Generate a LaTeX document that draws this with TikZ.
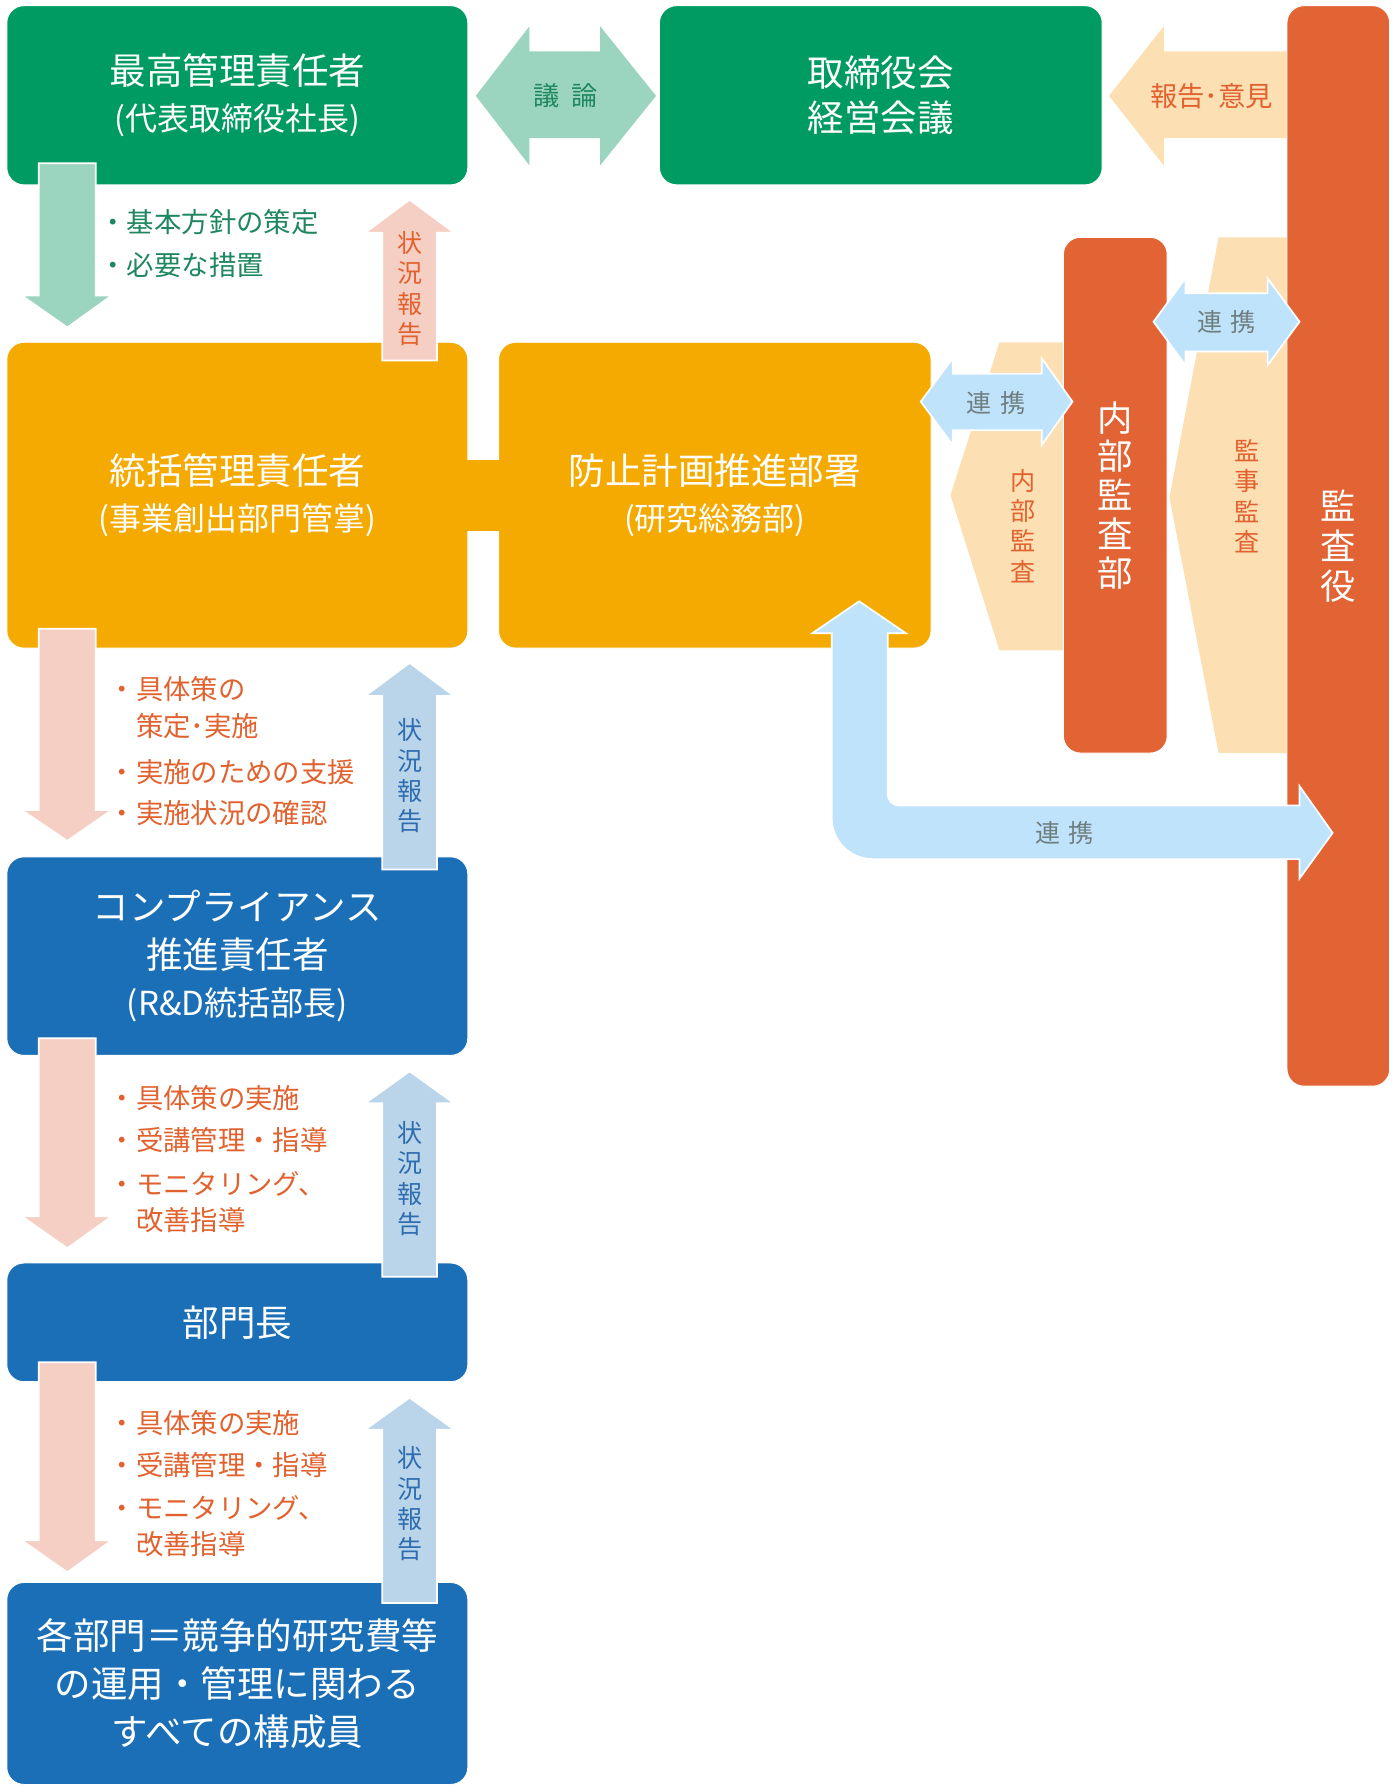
\documentclass[tikz,border=0pt]{standalone}
\usepackage{fontspec}
\setmainfont{Noto Sans CJK JP}
\usetikzlibrary{calc}
\definecolor{dgreen}{HTML}{009B63}
\definecolor{lgreen}{HTML}{9BD5C0}
\definecolor{gtx}{HTML}{1F8760}
\definecolor{yel}{HTML}{F4AA00}
\definecolor{org}{HTML}{E26334}
\definecolor{peach}{HTML}{FDDFB4}
\definecolor{salmon}{HTML}{F5CFC3}
\definecolor{lblue}{HTML}{BAD4EA}
\definecolor{blu}{HTML}{1B6FB7}
\definecolor{sky}{HTML}{C0E3FC}
\definecolor{otext}{HTML}{E2622F}
\definecolor{btext}{HTML}{2E6DB0}
\definecolor{grtext}{HTML}{6F7F80}
\newcommand{\mydown}[4]{\filldraw[blk, fill=#1] (34,#2) -- (84,#2) -- (84,#3) -- (98,#3) -- (59,#4) -- (19,#3) -- (34,#3) -- cycle;}
\newcommand{\myup}[4]{\filldraw[blk, fill=#1] (335,#2) -- (383,#2) -- (383,#3) -- (398,#3) -- (359,#4) -- (320,#3) -- (335,#3) -- cycle;}
\begin{document}
\begin{tikzpicture}[x=1pt,y=-1pt,
 mybox/.style={rounded corners=15pt, draw=white, line width=0.8pt, inner sep=0pt, text=white, align=center, font=\fontsize{32}{40}\selectfont},
 blk/.style={draw=white, line width=1.5pt, line join=miter},
 bul/.style={anchor=west, inner sep=0pt, font=\fontsize{24}{24}\selectfont},
 vtxt/.style={inner sep=0pt, align=center, font=\fontsize{22}{26.5}\selectfont},
 lbl/.style={inner sep=0pt, font=\fontsize{22}{22}\selectfont, text=grtext}
]
\useasboundingbox (0,0) rectangle (1227,1568);

% peach shapes behind
\fill[peach] (876,300) -- (934,300) -- (934,570) -- (876,570) -- (833,434) -- cycle;
\fill[peach] (1068,208) -- (1130,208) -- (1130,660) -- (1068,660) -- (1025,436) -- cycle;
\fill[peach] (972,84) -- (1020,23) -- (1020,45) -- (1131,45) -- (1131,121) -- (1020,121) -- (1020,145) -- cycle;

% boxes
\node[mybox, fill=dgreen, minimum width=404pt, minimum height=157pt] (A) at (208,83.5)
  {最高管理責任者\\{\fontsize{28}{40}\selectfont (代表取締役社長)}};
\node[mybox, fill=dgreen, minimum width=388pt, minimum height=157pt] (B) at (772,83.5)
  {取締役会\\経営会議};
\node[mybox, fill=yel, minimum width=404pt, minimum height=268pt] (C) at (208,434)
  {統括管理責任者\\{\fontsize{28}{40}\selectfont (事業創出部門管掌)}};
\node[mybox, fill=yel, minimum width=379pt, minimum height=268pt] (D) at (626.5,434)
  {防止計画推進部署\\{\fontsize{28}{40}\selectfont (研究総務部)}};
\node[mybox, fill=blu, minimum width=404pt, minimum height=174pt, font=\fontsize{32}{42}\selectfont] (E) at (208,838)
  {コンプライアンス\\推進責任者\\{\fontsize{29}{42}\selectfont (R\&D統括部長)}};
\node[mybox, fill=blu, minimum width=404pt, minimum height=104pt] (F) at (208,1159) {部門長};
\node[mybox, fill=blu, minimum width=404pt, minimum height=177pt, font=\fontsize{32}{42}\selectfont] (G) at (208,1475.5)
  {各部門＝競争的研究費等\\の運用・管理に関わる\\すべての構成員};
\node[mybox, fill=org, minimum width=91pt, minimum height=452pt, font=\fontsize{31}{34}\selectfont] (IA) at (977.5,434)
  {内\\部\\監\\査\\部};
\node[mybox, fill=org, minimum width=90pt, minimum height=947pt, font=\fontsize{31}{35}\selectfont] (KS) at (1173,478.5)
  {監\\査\\役};
\fill[yel] ($(C.east)+(-2,-31)$) rectangle ($(D.west)+(2,31)$);

% vertical arrows
\mydown{lgreen}{143}{259}{287}
\mydown{salmon}{551}{710}{737}
\mydown{salmon}{910}{1066}{1094}
\mydown{salmon}{1194}{1350}{1378}
\myup{salmon}{316}{204}{175}
\myup{lblue}{762}{610}{581}
\myup{lblue}{1119}{967}{939}
\myup{lblue}{1405}{1253}{1225}

% horizontal double arrows
\fill[lgreen] (417,84) -- (464,23) -- (464,45) -- (526,45) -- (526,23) -- (575,84) -- (526,145) -- (526,121) -- (464,121) -- (464,145) -- cycle;
\filldraw[blk, fill=sky] (807,352) -- (835,314) -- (835,327.5) -- (913,327.5) -- (913,314) -- (940,352) -- (913,390) -- (913,377) -- (835,377) -- (835,390) -- cycle;
\filldraw[blk, fill=sky] (1011,282) -- (1039,244) -- (1039,257) -- (1111,257) -- (1111,244) -- (1139,282) -- (1111,320) -- (1111,308) -- (1039,308) -- (1039,320) -- cycle;
\filldraw[blk, fill=sky] (753,527) -- (794,555) -- (778,555) -- (778,696) .. controls (778,701.5) and (782.5,706) .. (788,706) -- (1139,706) -- (1139,689) -- (1168,730) -- (1139,770) -- (1139,753) -- (765,753) .. controls (745,753) and (729,737) .. (729,717) -- (729,555) -- (712,555) -- cycle;

% arrow labels
\node[inner sep=0pt, font=\fontsize{23}{23}\selectfont, text=gtx] (gi) at (496,84) {議\hspace{10pt}論};
\node[inner sep=0pt, font=\fontsize{24}{24}\selectfont, text=otext] (hk) at (1062,84) {報告･意見};
\node[lbl] (r1) at (873,353) {連\hspace{7pt}携};
\node[lbl] (r2) at (1075,282) {連\hspace{7pt}携};
\node[lbl] (r3) at (933,730) {連\hspace{7pt}携};
\node[vtxt, text=otext] (s1) at (359,253) {状\\況\\報\\告};
\node[vtxt, text=btext] (s2) at (359,680) {状\\況\\報\\告};
\node[vtxt, text=btext] (s3) at (359,1033) {状\\況\\報\\告};
\node[vtxt, text=btext] (s4) at (359,1318) {状\\況\\報\\告};
\node[vtxt, text=otext] (na) at (897,461) {内\\部\\監\\査};
\node[vtxt, text=otext] (kj) at (1093,435) {監\\事\\監\\査};

% bullets
\node[bul, text=gtx] (b1) at (87,195) {・基本方針の策定};
\node[bul, text=gtx] (b2) at (87,232) {・必要な措置};
\node[bul, text=otext] (c1) at (95,604) {・具体策の};
\node[bul, text=otext] (c2) at (119,636) {策定･実施};
\node[bul, text=otext] (c3) at (95,677) {・実施のための支援};
\node[bul, text=otext] (c4) at (95,713) {・実施状況の確認};
\node[bul, text=otext] (e1) at (95,962) {・具体策の実施};
\node[bul, text=otext] (e2) at (95,999) {・受講管理・指導};
\node[bul, text=otext] (e3) at (95,1038) {・モニタリング、};
\node[bul, text=otext] (e4) at (119,1069) {改善指導};
\node[bul, text=otext] (f1) at (95,1247) {・具体策の実施};
\node[bul, text=otext] (f2) at (95,1284) {・受講管理・指導};
\node[bul, text=otext] (f3) at (95,1322) {・モニタリング、};
\node[bul, text=otext] (f4) at (119,1353) {改善指導};
\end{tikzpicture}
\end{document}
